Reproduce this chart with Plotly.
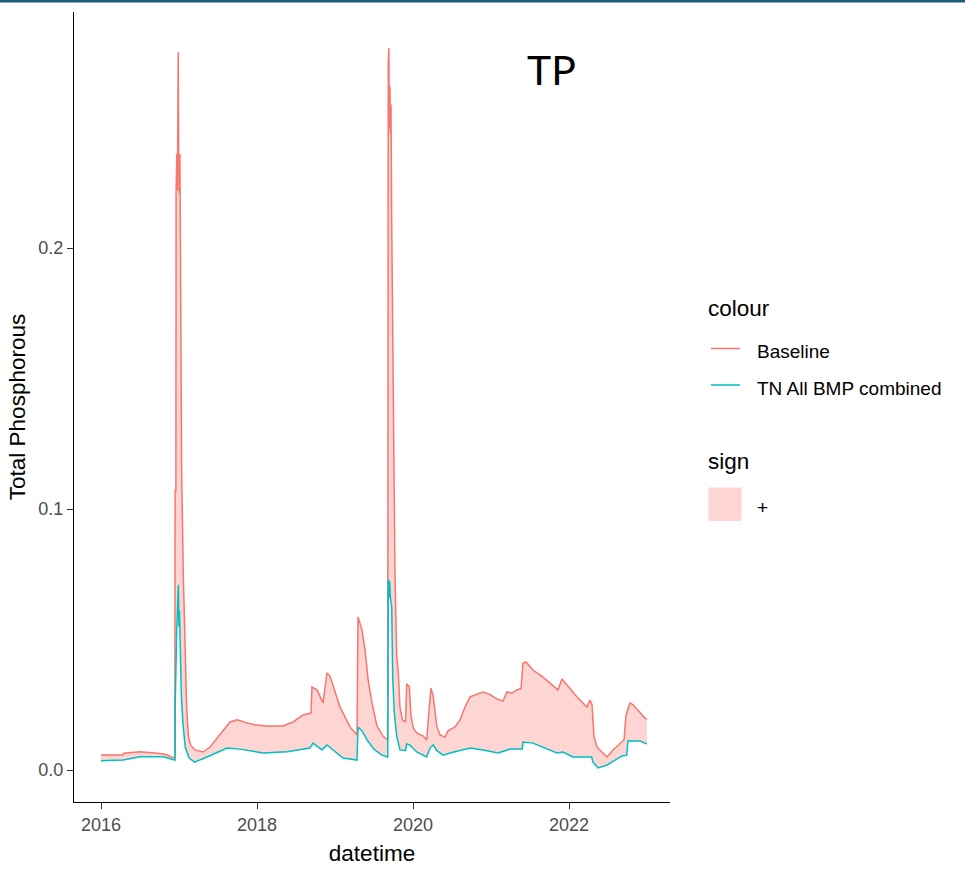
import plotly.graph_objects as go
import pandas as pd

# ---------------- data (decimal years) ----------------
baseline_year = [
    2016.000, 2016.280, 2016.290, 2016.500, 2016.692, 2016.821, 2016.940, 2016.947,
    2016.950, 2016.960, 2016.963, 2016.972, 2016.980, 2016.990, 2016.996, 2017.004,
    2017.012, 2017.021, 2017.034, 2017.055, 2017.077, 2017.098, 2017.120, 2017.150,
    2017.205, 2017.308, 2017.397, 2017.526, 2017.654, 2017.744, 2017.872, 2018.000,
    2018.128, 2018.333, 2018.462, 2018.590, 2018.692, 2018.705, 2018.769, 2018.846,
    2018.897, 2018.936, 2019.000, 2019.064, 2019.192, 2019.282, 2019.295, 2019.346,
    2019.385, 2019.423, 2019.474, 2019.538, 2019.615, 2019.676, 2019.683, 2019.690,
    2019.697, 2019.704, 2019.711, 2019.718, 2019.727, 2019.748, 2019.769, 2019.791,
    2019.812, 2019.833, 2019.867, 2019.905, 2019.919, 2019.953, 2019.974, 2020.004,
    2020.047, 2020.132, 2020.175, 2020.209, 2020.231, 2020.260, 2020.304, 2020.346,
    2020.410, 2020.449, 2020.538, 2020.603, 2020.667, 2020.731, 2020.821, 2020.897,
    2020.987, 2021.077, 2021.154, 2021.205, 2021.269, 2021.333, 2021.385, 2021.410,
    2021.449, 2021.538, 2021.667, 2021.859, 2021.910, 2021.974, 2022.103, 2022.231,
    2022.269, 2022.295, 2022.321, 2022.359, 2022.487, 2022.564, 2022.679, 2022.705,
    2022.731, 2022.782, 2022.821, 2022.910, 2022.974, 2023.000,
]
baseline_tp = [
    0.0057, 0.0057, 0.0064, 0.0070, 0.0065, 0.0060, 0.0046, 0.0046,
    0.107, 0.107, 0.222, 0.236, 0.222, 0.275, 0.236, 0.221,
    0.236, 0.186, 0.115, 0.075, 0.045, 0.024, 0.013, 0.0095,
    0.0077, 0.0069, 0.0088, 0.0134, 0.0184, 0.0192, 0.0180, 0.0172,
    0.0169, 0.0169, 0.0184, 0.0211, 0.0218, 0.0318, 0.0307, 0.0257,
    0.0372, 0.0360, 0.0300, 0.0241, 0.0165, 0.0134, 0.0586, 0.0536,
    0.0460, 0.0350, 0.0257, 0.0169, 0.0130, 0.0115, 0.270, 0.2766,
    0.246, 0.262, 0.244, 0.255, 0.2096, 0.130, 0.075, 0.044,
    0.037, 0.024, 0.019, 0.0185, 0.033, 0.032, 0.0207, 0.0160,
    0.0142, 0.0130, 0.0115, 0.0240, 0.0314, 0.0280, 0.0169, 0.0134,
    0.0126, 0.0150, 0.0165, 0.0192, 0.0241, 0.0280, 0.0291, 0.0299,
    0.0290, 0.0272, 0.0264, 0.0299, 0.0295, 0.0307, 0.0312, 0.0410,
    0.0414, 0.0383, 0.0356, 0.0307, 0.0349, 0.0326, 0.0280, 0.0241,
    0.0268, 0.0250, 0.0126, 0.0088, 0.0050, 0.0077, 0.0107, 0.0115,
    0.0210, 0.0257, 0.0250, 0.0218, 0.0199, 0.0195,
]

bmp_year = [
    2016.000, 2016.282, 2016.500, 2016.800, 2016.940, 2016.950, 2016.952, 2016.970,
    2016.992, 2016.999, 2017.006, 2017.015, 2017.030, 2017.050, 2017.080, 2017.130,
    2017.200, 2017.359, 2017.615, 2017.782, 2018.077, 2018.385, 2018.679, 2018.718,
    2018.769, 2018.833, 2018.897, 2018.974, 2019.103, 2019.282, 2019.295, 2019.346,
    2019.423, 2019.500, 2019.600, 2019.676, 2019.683, 2019.692, 2019.700, 2019.710,
    2019.727, 2019.740, 2019.760, 2019.791, 2019.833, 2019.905, 2019.919, 2019.962,
    2020.047, 2020.175, 2020.218, 2020.260, 2020.304, 2020.385, 2020.474, 2020.731,
    2020.897, 2021.090, 2021.244, 2021.400, 2021.410, 2021.538, 2021.846, 2021.923,
    2022.051, 2022.290, 2022.308, 2022.372, 2022.487, 2022.679, 2022.740, 2022.756,
    2022.910, 2022.974, 2023.000,
]
bmp_tp = [
    0.0035, 0.0038, 0.0051, 0.0051, 0.0038, 0.0038, 0.0257, 0.053,
    0.071, 0.055, 0.061, 0.047, 0.029, 0.018, 0.0088, 0.0046,
    0.0030, 0.0050, 0.0084, 0.0080, 0.0065, 0.0070, 0.0084, 0.0103,
    0.0090, 0.0077, 0.0096, 0.0077, 0.0046, 0.0038, 0.0165, 0.0150,
    0.0110, 0.0080, 0.0057, 0.0050, 0.073, 0.066, 0.0725, 0.066,
    0.0625, 0.035, 0.022, 0.013, 0.0077, 0.0075, 0.0100, 0.0095,
    0.0069, 0.0050, 0.0084, 0.0096, 0.0075, 0.0057, 0.0065, 0.0084,
    0.0077, 0.0065, 0.0080, 0.0080, 0.0107, 0.0103, 0.0065, 0.0069,
    0.0050, 0.0050, 0.0030, 0.0008, 0.0019, 0.0054, 0.0057, 0.0111,
    0.0111, 0.0103, 0.0100,
]

series_names = ["Baseline", "TN All BMP combined"]
sign_labels = ["+"]
x_tick_years = [2016, 2018, 2020, 2022]
y_tick_vals = [0.0, 0.1, 0.2]

RED = "#F8766D"
TEAL = "#00BFC4"
FILL = "rgba(248,118,109,0.30)"
FONT = "Liberation Sans, Arial, sans-serif"


def to_date(y):
    return pd.Timestamp("2016-01-01") + pd.Timedelta(days=(y - 2016) * 365.25)


base_dates = [to_date(v) for v in baseline_year]
bmp_dates = [to_date(v) for v in bmp_year]

fig = go.Figure()

# ribbon between baseline and BMP (sign "+")
fig.add_trace(go.Scatter(
    x=base_dates + bmp_dates[::-1],
    y=baseline_tp + bmp_tp[::-1],
    fill="toself", fillcolor=FILL, mode="lines",
    line=dict(width=0, color=FILL), name=sign_labels[0],
    showlegend=False, hoverinfo="skip",
))
fig.add_trace(go.Scatter(x=base_dates, y=baseline_tp, mode="lines",
                         line=dict(color=RED, width=1.5), name=series_names[0],
                         showlegend=False))
fig.add_trace(go.Scatter(x=bmp_dates, y=bmp_tp, mode="lines",
                         line=dict(color=TEAL, width=1.5), name=series_names[1],
                         showlegend=False))

# plot-area geometry in pixels
W, H = 965, 875
L, R, T, B = 74, 670, 12, 802
pw, ph = R - L, B - T


def px(x):
    return (x - L) / pw


def py(y):
    return (B - y) / ph


shapes = [
    # dark top bar of the page
    dict(type="rect", xref="paper", yref="paper", x0=px(0), x1=px(W), y0=py(2.5), y1=py(0),
         fillcolor="#1B5E7E", line=dict(width=0), layer="above"),
    # legend keys
    dict(type="line", xref="paper", yref="paper", x0=px(711), x1=px(740), y0=py(348.5), y1=py(348.5),
         line=dict(color=RED, width=1.5)),
    dict(type="line", xref="paper", yref="paper", x0=px(711), x1=px(740), y0=py(385), y1=py(385),
         line=dict(color=TEAL, width=1.5)),
    dict(type="rect", xref="paper", yref="paper", x0=px(708.5), x1=px(741.5), y0=py(521), y1=py(487.5),
         fillcolor=FILL, line=dict(width=0)),
]

annotations = [
    dict(text="TP", xref="paper", yref="paper", x=px(551), y=py(69), xanchor="center", yanchor="middle",
         showarrow=False, font=dict(family="Lato, sans-serif", size=41, color="black")),
    dict(text="colour", xref="paper", yref="paper", x=px(706), y=py(308), xanchor="left", yanchor="middle",
         showarrow=False, font=dict(family=FONT, size=22.5, color="black")),
    dict(text=series_names[0], xref="paper", yref="paper", x=px(755), y=py(351.5), xanchor="left",
         yanchor="middle", showarrow=False, font=dict(family=FONT, size=19, color="black")),
    dict(text=series_names[1], xref="paper", yref="paper", x=px(755), y=py(388), xanchor="left",
         yanchor="middle", showarrow=False, font=dict(family=FONT, size=19, color="black")),
    dict(text="sign", xref="paper", yref="paper", x=px(706), y=py(461.5), xanchor="left", yanchor="middle",
         showarrow=False, font=dict(family=FONT, size=22.5, color="black")),
    dict(text=sign_labels[0], xref="paper", yref="paper", x=px(755), y=py(507), xanchor="left",
         yanchor="middle", showarrow=False, font=dict(family=FONT, size=19, color="black")),
]

x0_year = 2016 + (L - 101) / 78
x1_year = 2016 + (R - 101) / 78
y_per_px = 0.1 / 261
y_lo = -(B - 770) * y_per_px
y_hi = (770 - T) * y_per_px

fig.update_layout(
    width=W, height=H,
    margin=dict(l=L, r=W - R, t=T, b=H - B, autoexpand=False),
    paper_bgcolor="white", plot_bgcolor="white",
    font=dict(family=FONT),
    showlegend=False,
    shapes=shapes, annotations=annotations,
    xaxis=dict(
        type="date", range=[to_date(x0_year), to_date(x1_year)],
        tickvals=[to_date(v) for v in x_tick_years], ticktext=[str(v) for v in x_tick_years],
        showgrid=False, zeroline=False, showline=True, linecolor="black", linewidth=1.1,
        ticks="outside", ticklen=6, tickwidth=1.1, tickcolor="#333333",
        tickfont=dict(family=FONT, size=18, color="#4D4D4D"),
        title=dict(text="datetime", font=dict(family=FONT, size=22.5, color="black"), standoff=11),
        automargin=False,
    ),
    yaxis=dict(
        range=[y_lo, y_hi],
        tickvals=y_tick_vals, ticktext=[f"{v:.1f}" for v in y_tick_vals],
        showgrid=False, zeroline=False, showline=True, linecolor="black", linewidth=1.1,
        ticks="outside", ticklen=6, tickwidth=1.1, tickcolor="#333333",
        tickfont=dict(family=FONT, size=18, color="#4D4D4D"),
        title=dict(text="Total Phosphorous", font=dict(family=FONT, size=22.5, color="black"), standoff=6),
        automargin=False,
    ),
)

fig.write_html("out.html")
